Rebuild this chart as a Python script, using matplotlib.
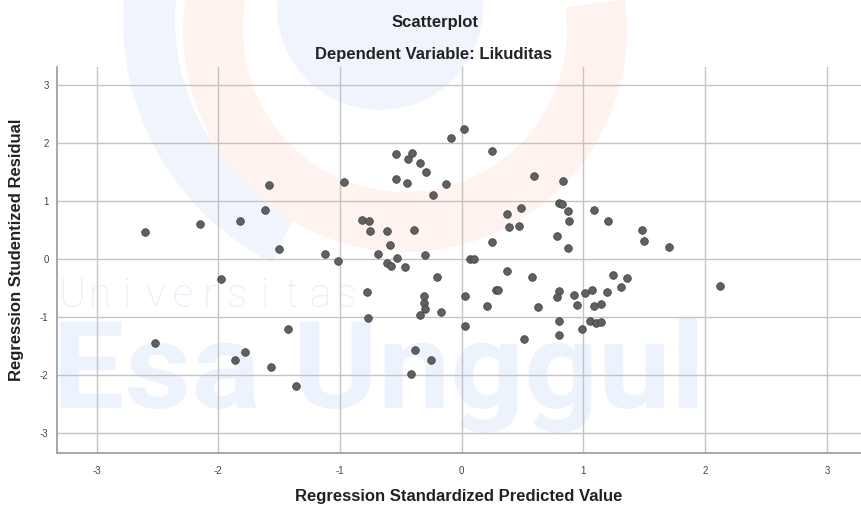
import matplotlib
matplotlib.use('Agg')
from matplotlib import pyplot as plt
from matplotlib.patches import Circle, Wedge, PathPatch
from matplotlib.textpath import TextPath
from matplotlib.font_manager import FontProperties
from matplotlib.transforms import Affine2D
import numpy as np

plt.rcParams['font.family'] = ['Liberation Sans', 'DejaVu Sans']
plt.rcParams['axes.unicode_minus'] = False

pred_value = [
    -2.60, -2.15, -1.82, -1.62, -1.58, -1.50, -1.12, -1.02, -0.97, -0.54,
    -0.41, -0.44, -0.34, -0.29, -0.54, -0.45, -0.24, -0.13, -0.09, 0.02,
    0.25, -0.82, -0.76, -0.75, -0.61, -0.39, -0.59, -0.69, -0.61, -0.58,
    -0.53, -0.47, -0.30, -1.98, 0.59, 0.83, 0.80, 0.82, 0.87, 0.88,
    1.09, 1.20, 1.48, 1.50, 1.70, 0.49, 0.37, 0.39, 0.47, 0.78,
    0.87, 0.25, 0.07, 0.10, 0.37, 0.58, -0.20, -0.78, -0.31, -0.31,
    -0.30, -0.34, -0.17, 0.03, 0.28, 0.30, 0.21, -0.77, 0.03, -0.38,
    -0.25, -0.42, -2.52, -1.86, -1.78, -1.57, -1.43, -1.36, 0.63, 0.80,
    0.78, 0.92, 1.01, 1.07, 1.19, 1.24, 1.36, 1.31, 0.95, 1.09,
    1.14, 0.80, 1.05, 1.10, 1.14, 0.99, 0.80, 0.51, 2.12,
]
stud_resid = [
    0.47, 0.60, 0.66, 0.84, 1.28, 0.18, 0.09, -0.03, 1.33, 1.81,
    1.82, 1.72, 1.65, 1.50, 1.38, 1.32, 1.10, 1.30, 2.09, 2.24,
    1.86, 0.68, 0.65, 0.49, 0.49, 0.51, 0.24, 0.08, -0.06, -0.12,
    0.02, -0.13, 0.07, -0.35, 1.44, 1.35, 0.97, 0.95, 0.83, 0.66,
    0.84, 0.65, 0.51, 0.31, 0.21, 0.88, 0.78, 0.56, 0.57, 0.40,
    0.20, 0.29, 0.01, 0.01, -0.20, -0.30, -0.31, -0.57, -0.64, -0.76,
    -0.86, -0.96, -0.91, -0.64, -0.53, -0.53, -0.80, -1.01, -1.16, -1.56,
    -1.73, -1.98, -1.45, -1.73, -1.60, -1.86, -1.21, -2.18, -0.83, -0.55,
    -0.66, -0.62, -0.58, -0.54, -0.57, -0.27, -0.32, -0.48, -0.79, -0.81,
    -0.78, -1.06, -1.06, -1.10, -1.08, -1.21, -1.30, -1.37, -0.47,
]
tick_vals = [-3, -2, -1, 0, 1, 2, 3]

W, H = 861, 509
fig = plt.figure(figsize=(W / 100, H / 100), dpi=100)

# faint university watermark behind the chart (pixel coords, y up)
bg = fig.add_axes([0, 0, 1, 1], zorder=0)
bg.set_xlim(0, W)
bg.set_ylim(0, H)
bg.axis('off')
wm_blue = '#f0f5fd'
wm_orange = '#fef3ee'
bg.add_patch(Wedge((395, H - 20), 272, 118, 243, width=52, color=wm_blue, lw=0))
bg.add_patch(Wedge((405, H - 30), 222, 168, 368, width=60, color=wm_orange, lw=0))
bg.add_patch(Circle((380, H - 7), 103, color=wm_blue, lw=0))


def fit_text(txt, x0, x1, y0, y1, color, weight):
    tp = TextPath((0, 0), txt, size=100, prop=FontProperties(family='Roboto', weight=weight))
    ext = tp.get_extents()
    tr = Affine2D().translate(-ext.x0, -ext.y0).scale((x1 - x0) / ext.width,
                                                       (y1 - y0) / ext.height).translate(x0, y0)
    bg.add_patch(PathPatch(tr.transform_path(tp), color=color, lw=0))


fit_text('Esa Unggul', 60, 697, H - 433, H - 317, '#edf3fd', 'bold')
letters = 'Universitas'
for i, ch in enumerate(letters):
    bg.text(72 + i * 27.5, H - 307, ch, fontsize=29, family='Roboto', weight='light',
            color='#e4edfa', ha='center', va='baseline')

# main scatter
ax = fig.add_axes([57 / W, (H - 453) / H, (W - 57) / W, (453 - 67) / H], zorder=1)
ax.set_facecolor('none')
ax.scatter(pred_value, stud_resid, s=30, color='#606060', edgecolors='#454545',
           linewidths=0.6, zorder=3)

ax.set_xlim(-3.325, 3.28)
ax.set_ylim(-3.34, 3.31)
ax.set_xticks(tick_vals)
ax.set_yticks(tick_vals)
ax.grid(True, color='#c4c4c4', lw=1.0)
ax.set_axisbelow(True)
for side in ['top', 'right']:
    ax.spines[side].set_visible(False)
for side in ['left', 'bottom']:
    ax.spines[side].set_color('#9a9a9a')
    ax.spines[side].set_linewidth(1.2)
ax.tick_params(length=0, labelsize=7, labelcolor='#444444')
ax.tick_params(axis='x', pad=9)
ax.tick_params(axis='y', pad=6)

ax.set_xlabel('Regression Standardized Predicted Value', fontsize=12, weight='bold',
              color='#222222')
ax.set_ylabel('Regression Studentized Residual', fontsize=12, weight='bold',
              color='#222222')
ax.xaxis.set_label_coords(0.5, (453 - 489) / 386)
ax.yaxis.set_label_coords((24 - 57) / 804, (453 - 250) / 386)

fig.text(435 / W, 1 - 22 / H, 'Scatterplot', fontsize=12, weight='bold',
         color='#222222', ha='center', va='center')
fig.text(434 / W, 1 - 55 / H, 'Dependent Variable: Likuditas', fontsize=12,
         weight='bold', color='#222222', ha='center', va='center')

fig.savefig('out.png', dpi=100)
